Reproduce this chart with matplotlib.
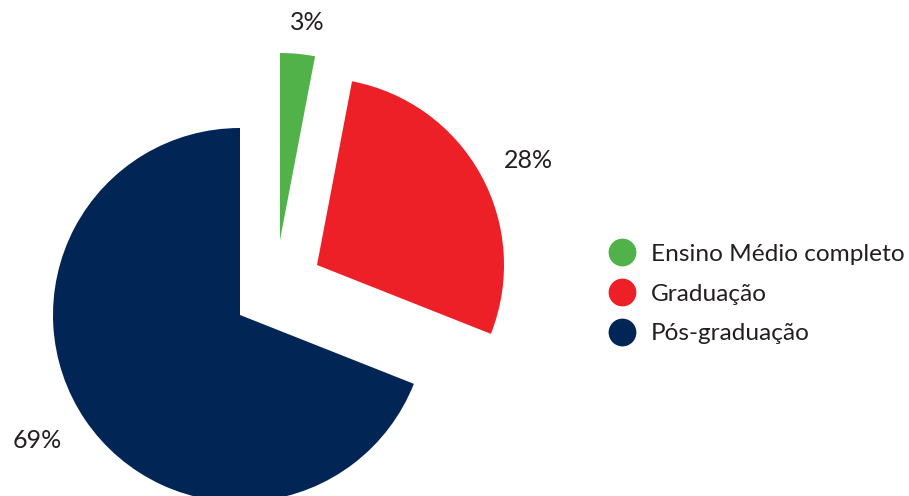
import matplotlib
matplotlib.use("Agg")
import matplotlib.pyplot as plt
from matplotlib.lines import Line2D

# Escolaridade dos respondentes (%)
categories = ["Ensino Médio completo", "Graduação", "Pós-graduação"]
values = [3, 28, 69]
colors = ["#50B248", "#ED1F27", "#012555"]

text_color = "#231F20"
plt.rcParams["font.family"] = ["Lato", "DejaVu Sans"]

W, H = 909, 496
fig = plt.figure(figsize=(W / 100, H / 100), dpi=100)
ax = fig.add_axes([0, 0, 1, 1])

radius = 187
center = (240, H - 315)
wedges, _ = ax.pie(values, colors=colors, startangle=90, counterclock=False,
                   radius=radius, center=center,
                   wedgeprops=dict(linewidth=0))

# pull the two smaller slices away from the main one
offsets = [(40, 75), (77, 50), (0, 0)]
for w, (dx, dy) in zip(wedges, offsets):
    w.set_center((center[0] + dx, center[1] + dy))

# percentage labels
label_pos = [(307, H - 22), (528, H - 160), (37, H - 440)]
for v, (x, y) in zip(values, label_pos):
    ax.text(x, y, f"{v}%", ha="center", va="center", fontsize=18,
            color=text_color)

ax.set_xlim(0, W)
ax.set_ylim(0, H)
ax.set_aspect("equal")
ax.axis("off")

handles = [Line2D([], [], marker="o", linestyle="none", markersize=20,
                  markerfacecolor=c, markeredgewidth=0) for c in colors]
fig.legend(handles, categories, loc="center left",
           bbox_to_anchor=(595 / W, 1 - 294 / H), frameon=False,
           fontsize=17.6, labelcolor=text_color, handletextpad=0.56,
           labelspacing=0.76, borderpad=0, handlelength=1.22)

fig.savefig("out.png", dpi=100)
